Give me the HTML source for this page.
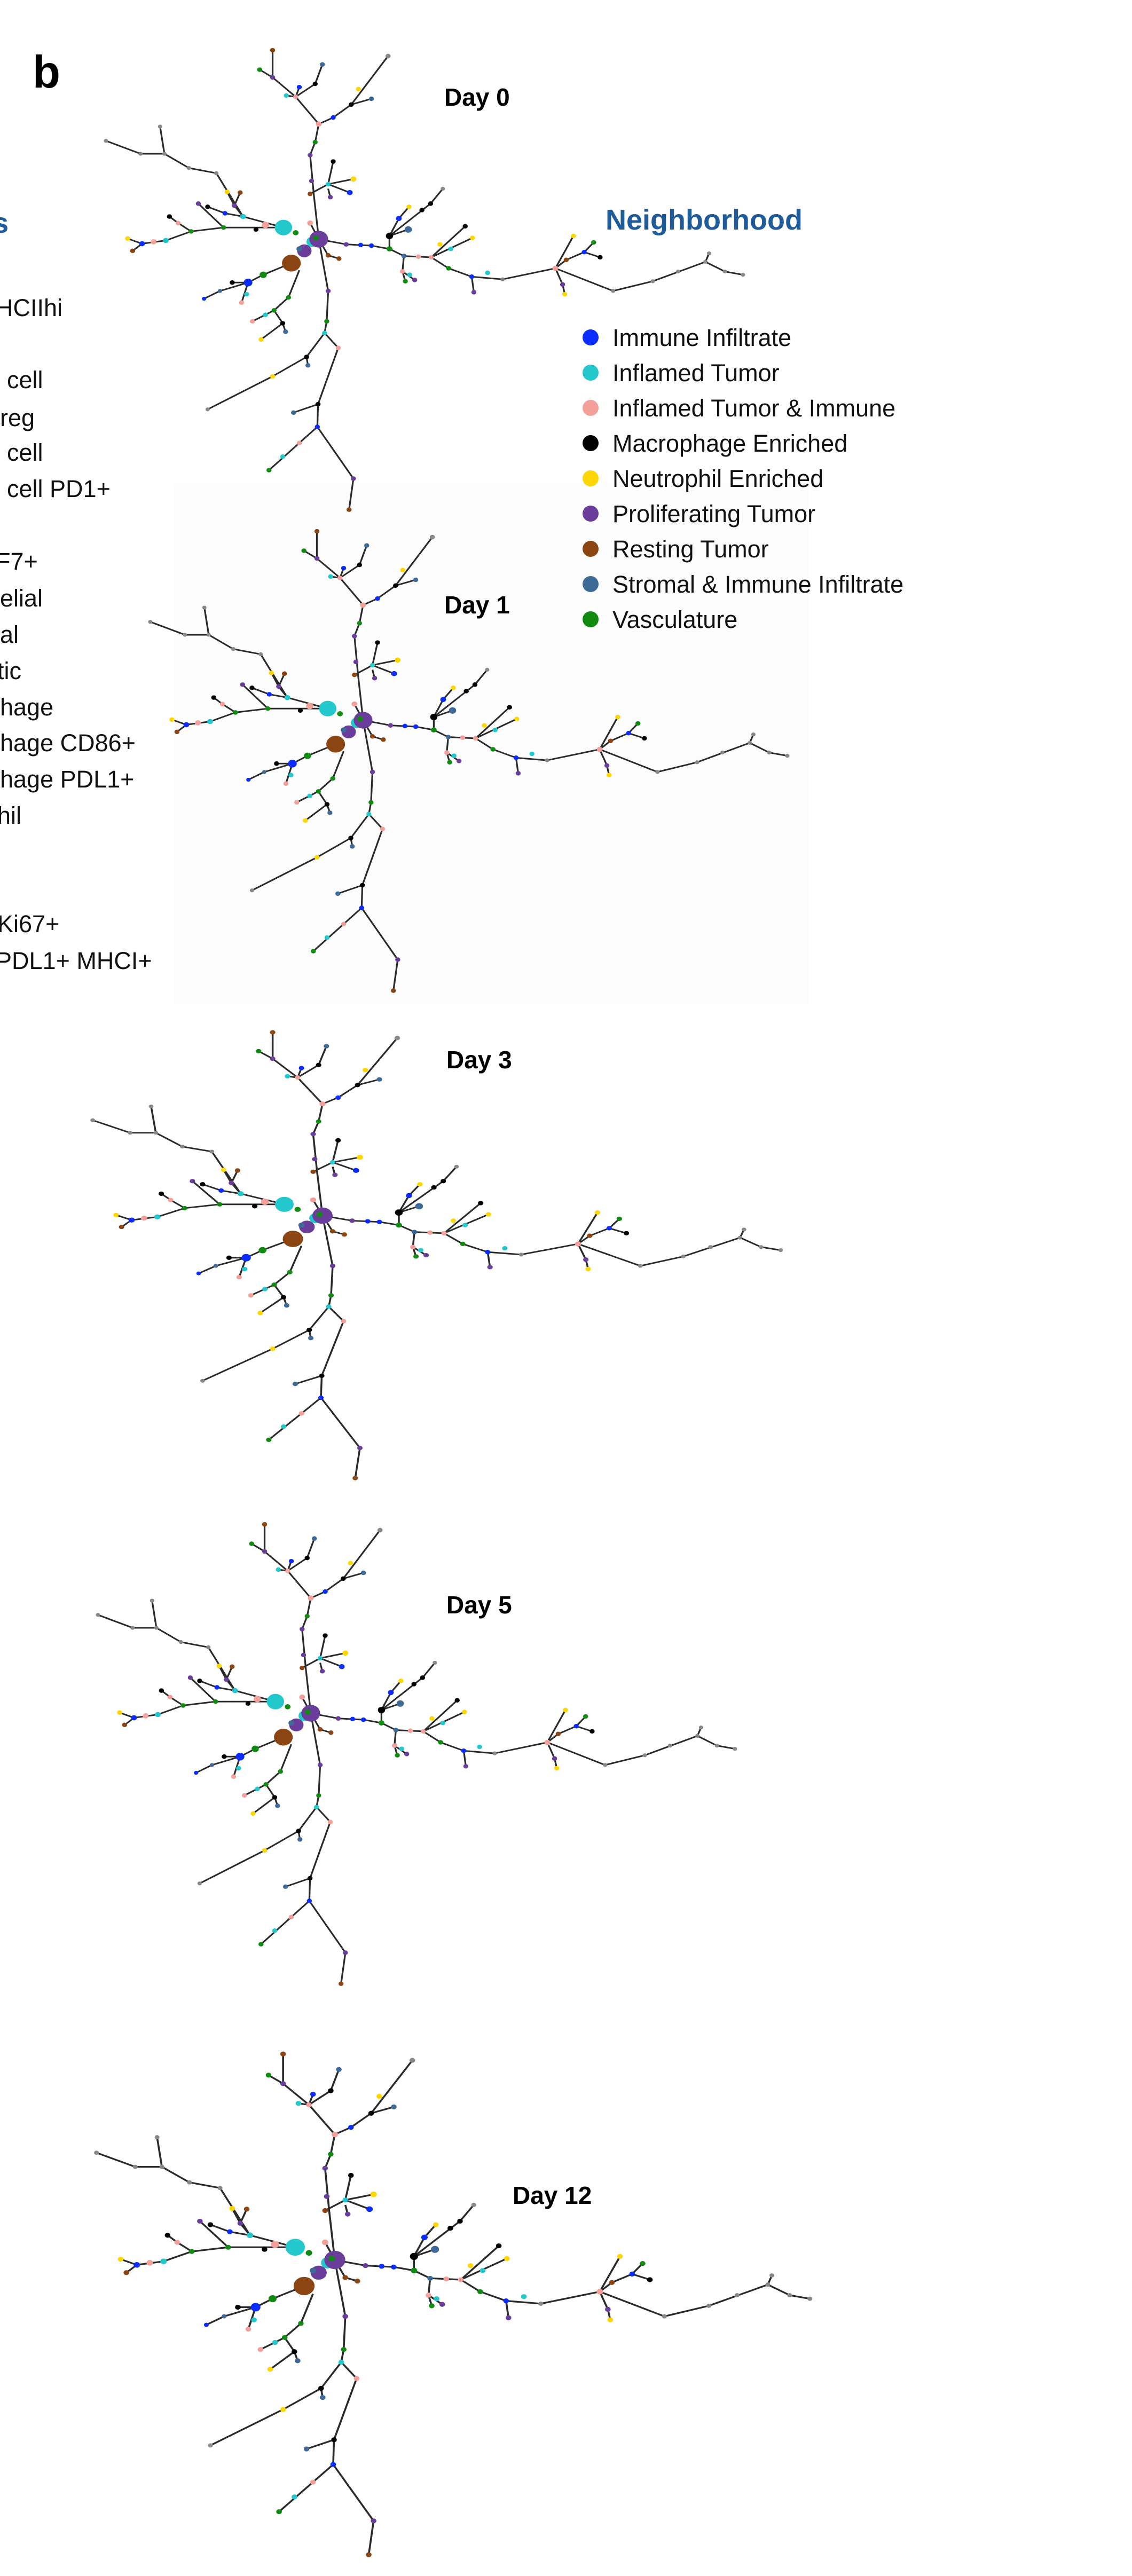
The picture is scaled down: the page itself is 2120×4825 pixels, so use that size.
<!DOCTYPE html>
<html><head><meta charset="utf-8"><style>
html,body{margin:0;padding:0;background:#fff;}
svg{display:block;}
text{font-family:"Liberation Sans",Arial,sans-serif;}
</style></head><body>
<svg width="2120" height="4825" viewBox="0 0 2120 4825" xmlns="http://www.w3.org/2000/svg">
<defs>
<g id="tree">
<path fill="none" stroke="#2a2a2a" stroke-width="2.4" stroke-linejoin="round" d="
M442,370 L435,300 L430,240 L437,220 L442,192
M442,192 L410,150 L378,120 L378,78 M378,120 L360,108 M410,150 L397,148 M410,150 L415,135 M410,150 L437,130 L447,100
M442,192 L462,182 L487,162 L538,87 M487,162 L515,153
M430,300 L455,285 L462,250 M455,285 L490,277 M455,285 L485,298 M455,292 L458,305
M393,352 L337,335 L300,268 L262,260 L228,238 L222,196 M228,238 L195,238 L147,218
M337,335 L325,318 L315,297 M325,318 L333,298
M393,352 L310,352 L265,358 L230,372 L197,377 L177,369 M197,377 L184,388 M310,352 L275,315 M265,358 L247,345 L235,335 M337,335 L312,330 L288,320
M404,407 L365,425 L344,437 L322,437 M344,437 L305,450 L283,462 M344,437 L335,468
M415,418 L400,460 L380,480 L350,497 M380,480 L392,500 L362,525 M392,500 L396,513
M442,370 L455,450 L453,497 L450,515 L425,552 L378,582 L288,633 M425,552 L427,565
M450,515 L469,538 L441,625 L440,660 L415,685 L373,727 M440,660 L490,740 L484,788 M441,625 L407,638
M442,370 L480,378 L515,380 L540,385 L560,396 L598,398 L622,415 L654,428 L697,432 L770,415 L850,450 L905,435 L978,405 L983,392 M978,405 L1005,420 L1030,425
M770,415 L795,365 M770,415 L785,402 L810,390 L832,398 M810,390 L823,375 M770,415 L780,440 L783,455
M540,385 L540,365 L597,315 L614,292 M540,365 L553,338 L567,320 M540,365 L566,355
M598,398 L645,350 M598,398 L655,368 M560,396 L558,420 L562,435 M558,420 L575,433 M654,428 L657,452
M442,370 L455,395 L470,400 M442,370 L430,345"/>
<g>
<circle cx="378" cy="78" r="3.5" fill="#8b4513"/><circle cx="360" cy="108" r="3.5" fill="#118a11"/><circle cx="378" cy="120" r="3.5" fill="#6a3d9a"/>
<circle cx="397" cy="148" r="3.5" fill="#22c8cc"/><circle cx="415" cy="135" r="3.5" fill="#0a2cff"/><circle cx="410" cy="150" r="3.5" fill="#f4a09a"/>
<circle cx="437" cy="130" r="3.5" fill="#000"/><circle cx="447" cy="100" r="3.5" fill="#3d6a96"/>
<circle cx="442" cy="192" r="4" fill="#f4a09a"/><circle cx="462" cy="182" r="3.5" fill="#0a2cff"/><circle cx="487" cy="162" r="3.5" fill="#000"/>
<circle cx="538" cy="87" r="3.5" fill="#888"/><circle cx="497" cy="138" r="3.5" fill="#ffd700"/><circle cx="515" cy="153" r="3.5" fill="#3d6a96"/>
<circle cx="437" cy="220" r="3.5" fill="#118a11"/><circle cx="430" cy="240" r="3.5" fill="#6a3d9a"/><circle cx="432" cy="280" r="3.5" fill="#6a3d9a"/>
<circle cx="430" cy="300" r="3.5" fill="#8b4513"/><circle cx="455" cy="285" r="3.5" fill="#22c8cc"/><circle cx="462" cy="250" r="3.5" fill="#000"/>
<circle cx="490" cy="277" r="4" fill="#ffd700"/><circle cx="485" cy="298" r="4" fill="#0a2cff"/><circle cx="458" cy="305" r="3.5" fill="#6a3d9a"/>
<circle cx="430" cy="345" r="4" fill="#f4a09a"/><circle cx="455" cy="395" r="3.5" fill="#8b4513"/><circle cx="470" cy="400" r="3.5" fill="#8b4513"/>
<circle cx="222" cy="196" r="3" fill="#888"/><circle cx="228" cy="238" r="3" fill="#888"/><circle cx="195" cy="238" r="3" fill="#888"/><circle cx="147" cy="218" r="3" fill="#888"/>
<circle cx="262" cy="260" r="3" fill="#888"/><circle cx="300" cy="268" r="3" fill="#888"/><circle cx="315" cy="297" r="3.5" fill="#ffd700"/><circle cx="333" cy="298" r="3.5" fill="#8b4513"/>
<circle cx="325" cy="318" r="3.5" fill="#6a3d9a"/><circle cx="337" cy="335" r="4" fill="#22c8cc"/><circle cx="312" cy="330" r="3.5" fill="#0a2cff"/><circle cx="288" cy="320" r="3.5" fill="#000"/>
<circle cx="275" cy="315" r="3.5" fill="#6a3d9a"/><circle cx="310" cy="352" r="3.5" fill="#118a11"/><circle cx="265" cy="358" r="3.5" fill="#118a11"/>
<circle cx="247" cy="345" r="3.5" fill="#f4a09a"/><circle cx="235" cy="335" r="3.5" fill="#000"/><circle cx="230" cy="372" r="4" fill="#22c8cc"/>
<circle cx="213" cy="374" r="4" fill="#f4a09a"/><circle cx="197" cy="377" r="4" fill="#0a2cff"/><circle cx="177" cy="369" r="3.5" fill="#ffd700"/><circle cx="184" cy="388" r="3.5" fill="#8b4513"/>
<circle cx="355" cy="355" r="3.5" fill="#000"/><circle cx="368" cy="348" r="5" fill="#f4a09a"/><circle cx="410" cy="360" r="4" fill="#118a11"/>
<circle cx="365" cy="425" r="5" fill="#118a11"/><circle cx="344" cy="437" r="6" fill="#0a2cff"/><circle cx="322" cy="437" r="3.5" fill="#000"/>
<circle cx="305" cy="450" r="3" fill="#3d6a96"/><circle cx="283" cy="462" r="3" fill="#0a2cff"/><circle cx="335" cy="468" r="3.5" fill="#f4a09a"/><circle cx="342" cy="455" r="3.5" fill="#22c8cc"/>
<circle cx="400" cy="460" r="3.5" fill="#118a11"/><circle cx="380" cy="480" r="3.5" fill="#118a11"/><circle cx="368" cy="487" r="3.5" fill="#22c8cc"/><circle cx="350" cy="497" r="3.5" fill="#f4a09a"/>
<circle cx="392" cy="500" r="3.5" fill="#000"/><circle cx="362" cy="525" r="3.5" fill="#ffd700"/><circle cx="396" cy="513" r="3.5" fill="#3d6a96"/>
<circle cx="455" cy="450" r="3.5" fill="#6a3d9a"/><circle cx="453" cy="497" r="3.5" fill="#118a11"/><circle cx="450" cy="515" r="3.5" fill="#22c8cc"/>
<circle cx="425" cy="552" r="3.5" fill="#000"/><circle cx="427" cy="565" r="3.5" fill="#3d6a96"/><circle cx="378" cy="582" r="3.5" fill="#ffd700"/><circle cx="288" cy="633" r="3" fill="#888"/>
<circle cx="469" cy="538" r="3.5" fill="#f4a09a"/><circle cx="441" cy="625" r="3.5" fill="#000"/><circle cx="407" cy="638" r="3.5" fill="#3d6a96"/><circle cx="440" cy="660" r="3.5" fill="#0a2cff"/>
<circle cx="415" cy="685" r="3.5" fill="#f4a09a"/><circle cx="392" cy="706" r="3.5" fill="#22c8cc"/><circle cx="373" cy="727" r="3.5" fill="#118a11"/>
<circle cx="490" cy="740" r="3.5" fill="#6a3d9a"/><circle cx="484" cy="788" r="3.5" fill="#8b4513"/>
<circle cx="480" cy="378" r="3.5" fill="#6a3d9a"/><circle cx="500" cy="379" r="3.5" fill="#0a2cff"/><circle cx="515" cy="380" r="3.5" fill="#0a2cff"/><circle cx="540" cy="385" r="4" fill="#118a11"/>
<circle cx="560" cy="396" r="3.5" fill="#3d6a96"/><circle cx="580" cy="397" r="3.5" fill="#f4a09a"/><circle cx="598" cy="398" r="3.5" fill="#f4a09a"/><circle cx="622" cy="415" r="3.5" fill="#118a11"/>
<circle cx="654" cy="428" r="3.5" fill="#0a2cff"/><circle cx="676" cy="422" r="3.5" fill="#22c8cc"/><circle cx="657" cy="452" r="3.5" fill="#6a3d9a"/><circle cx="697" cy="432" r="3" fill="#888"/>
<circle cx="770" cy="415" r="4" fill="#f4a09a"/><circle cx="795" cy="365" r="3.5" fill="#ffd700"/><circle cx="785" cy="402" r="3.5" fill="#8b4513"/><circle cx="810" cy="390" r="3.5" fill="#0a2cff"/>
<circle cx="832" cy="398" r="3.5" fill="#000"/><circle cx="823" cy="375" r="3.5" fill="#118a11"/><circle cx="780" cy="440" r="3.5" fill="#6a3d9a"/><circle cx="783" cy="455" r="3.5" fill="#ffd700"/>
<circle cx="850" cy="450" r="3" fill="#888"/><circle cx="905" cy="435" r="3" fill="#888"/><circle cx="940" cy="420" r="3" fill="#888"/><circle cx="978" cy="405" r="3" fill="#888"/>
<circle cx="983" cy="392" r="3" fill="#888"/><circle cx="1005" cy="420" r="3" fill="#888"/><circle cx="1030" cy="425" r="3" fill="#888"/>
<circle cx="540" cy="365" r="5" fill="#000"/><circle cx="553" cy="338" r="4" fill="#0a2cff"/><circle cx="567" cy="320" r="3.5" fill="#ffd700"/><circle cx="566" cy="355" r="5" fill="#3d6a96"/>
<circle cx="585" cy="325" r="3.5" fill="#000"/><circle cx="597" cy="315" r="3.5" fill="#000"/><circle cx="614" cy="292" r="3" fill="#888"/>
<circle cx="645" cy="350" r="3.5" fill="#000"/><circle cx="610" cy="378" r="3.5" fill="#ffd700"/><circle cx="655" cy="368" r="3.5" fill="#ffd700"/><circle cx="625" cy="385" r="3.5" fill="#22c8cc"/>
<circle cx="558" cy="420" r="3.5" fill="#f4a09a"/><circle cx="562" cy="435" r="3.5" fill="#118a11"/><circle cx="568" cy="425" r="3.5" fill="#22c8cc"/><circle cx="575" cy="433" r="3.5" fill="#6a3d9a"/>
<circle cx="393" cy="352" r="12" fill="#22c8cc"/><circle cx="404" cy="407" r="13" fill="#8b4513"/><circle cx="422" cy="388" r="10" fill="#6a3d9a"/>
<circle cx="415" cy="385" r="4" fill="#3d6a96"/><circle cx="433" cy="374" r="8" fill="#22c8cc"/><circle cx="442" cy="370" r="13" fill="#6a3d9a"/><circle cx="438" cy="368" r="4" fill="#118a11"/>
</g>
</g>
</defs>

<rect x="325" y="905" width="1190" height="975" fill="#fcfcfc"/>

<use href="#tree" transform="translate(597,448) scale(1.351,1.212) translate(-442,-370)"/>
<use href="#tree" transform="translate(680,1349) scale(1.351,1.212) translate(-442,-370)"/>
<use href="#tree" transform="translate(604,2277) scale(1.459,1.176) translate(-442,-370)"/>
<use href="#tree" transform="translate(582,3209) scale(1.351,1.212) translate(-442,-370)"/>
<use href="#tree" transform="translate(627,4233) scale(1.513,1.321) translate(-442,-370)"/>

<text x="61" y="164" font-size="85" font-weight="bold" fill="#000">b</text>
<text x="832" y="198" font-size="46" font-weight="bold">Day 0</text>
<text x="832" y="1149" font-size="46" font-weight="bold">Day 1</text>
<text x="836" y="2001" font-size="46" font-weight="bold">Day 3</text>
<text x="836" y="3022" font-size="46" font-weight="bold">Day 5</text>
<text x="960" y="4128" font-size="46" font-weight="bold">Day 12</text>

<text x="1134" y="430" font-size="54" font-weight="bold" fill="#1f5c99">Neighborhood</text>
<g font-size="45" fill="#111">
<circle cx="1106" cy="632" r="15" fill="#0a2cff"/><text x="1147" y="648">Immune Infiltrate</text>
<circle cx="1106" cy="698" r="15" fill="#22c8cc"/><text x="1147" y="714">Inflamed Tumor</text>
<circle cx="1106" cy="764" r="15" fill="#f4a09a"/><text x="1147" y="780">Inflamed Tumor &amp; Immune</text>
<circle cx="1106" cy="830" r="15" fill="#000"/><text x="1147" y="846">Macrophage Enriched</text>
<circle cx="1106" cy="896" r="15" fill="#ffd700"/><text x="1147" y="912">Neutrophil Enriched</text>
<circle cx="1106" cy="962" r="15" fill="#6a3d9a"/><text x="1147" y="978">Proliferating Tumor</text>
<circle cx="1106" cy="1028" r="15" fill="#8b4513"/><text x="1147" y="1044">Resting Tumor</text>
<circle cx="1106" cy="1094" r="15" fill="#3d6a96"/><text x="1147" y="1110">Stromal &amp; Immune Infiltrate</text>
<circle cx="1106" cy="1160" r="15" fill="#118a11"/><text x="1147" y="1176">Vasculature</text>
</g>

<text x="-14" y="436" font-size="54" font-weight="bold" fill="#1f5c99">s</text>
<g font-size="45" fill="#111">
<text x="-8" y="592">HCIIhi</text>
<text x="13" y="727">cell</text>
<text x="0" y="798">reg</text>
<text x="13" y="863">cell</text>
<text x="13" y="931">cell PD1+</text>
<text x="-8" y="1067">F7+</text>
<text x="0" y="1136">elial</text>
<text x="0" y="1204">al</text>
<text x="-5" y="1272">tic</text>
<text x="0" y="1340">hage</text>
<text x="0" y="1407">hage CD86+</text>
<text x="0" y="1475">hage PDL1+</text>
<text x="-5" y="1543">hil</text>
<text x="-5" y="1746">Ki67+</text>
<text x="-8" y="1815">PDL1+ MHCI+</text>
</g>
</svg>
</body></html>
